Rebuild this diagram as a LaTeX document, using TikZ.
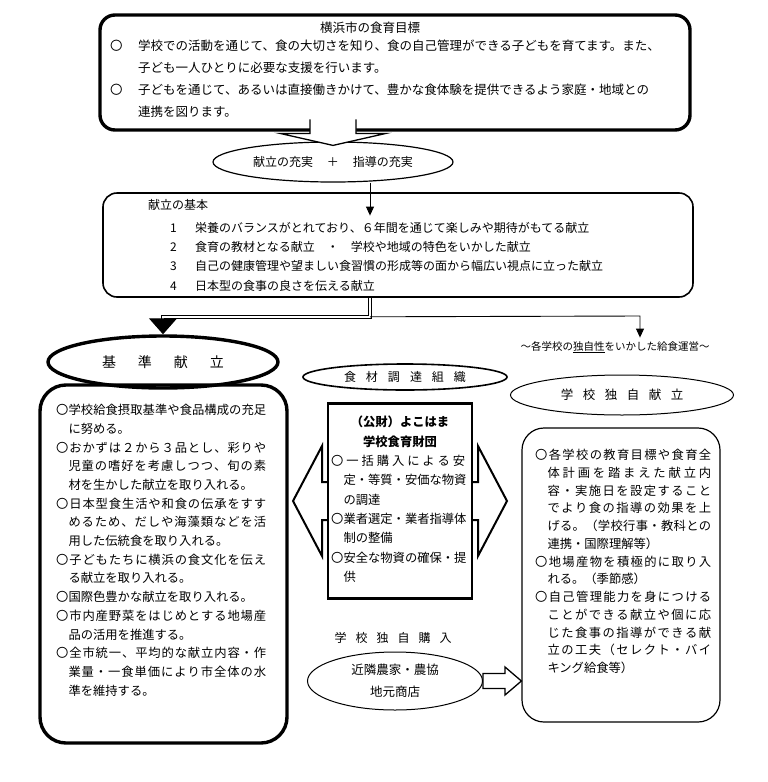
\documentclass[tikz,border=0pt]{standalone}
\usepackage{fontspec}
\setmainfont{Noto Sans CJK JP}
\usetikzlibrary{shapes.geometric, arrows.meta, positioning, calc}

\newcommand{\sz}[2]{\fontsize{#1}{#2}\selectfont}
% justified line: glue between the characters
\def\spreadA#1{#1\spreadB}
\def\spreadB#1{\ifx#1\relax\else\hskip 0pt plus 1fil minus 1.5pt#1\expandafter\spreadB\fi}
\newcommand{\jline}[2]{\makebox[#1][s]{\spreadA#2\relax}}

\begin{document}
\begin{tikzpicture}[x=1pt, y=-1pt,
        heavybox/.style={rectangle, draw, line width=3.4pt, rounded corners=15pt},
        plainbox/.style={rectangle, draw, line width=1.6pt, rounded corners=14pt},
        oval/.style={ellipse, draw, line width=1.2pt, inner sep=0pt},
        body/.style={inner sep=0pt, align=left, anchor=north west},
        arrow/.style={-{Triangle[length=9pt,width=8pt]}, line width=0.9pt},
        block/.style={draw, fill=white, line width=1.3pt, line join=miter},
        heavyline/.style={double, double distance=1.6pt, line width=1.5pt}
    ]
    \useasboundingbox (0,0) rectangle (768,782);

    % goals of the city
    \node[heavybox, minimum width=590pt, minimum height=115pt] (goal) at (395,72.5) {};
    \node[font=\sz{12.5}{15}] (goaltitle) at (370,28) {横浜市の食育目標};
    \node[body, font=\sz{12.5}{22}] (goaltext) at (110,40) {\makebox[28pt][l]{〇}学校での活動を通じて、食の大切さを知り、食の自己管理ができる子どもを育てます。また、\\
        \hspace*{28pt}子ども一人ひとりに必要な支援を行います。\\
        \makebox[28pt][l]{〇}子どもを通じて、あるいは直接働きかけて、豊かな食体験を提供できるよう家庭・地域との\\
        \hspace*{28pt}連携を図ります。};

    \node[oval, minimum width=240pt, minimum height=40pt, font=\sz{12}{14}] (fulfil) at (333,162) {献立の充実\hspace{14pt}＋\hspace{14pt}指導の充実};
    \coordinate (tipA) at ($(fulfil.north)+(0,4)$);
    \draw[block] ($(tipA)+(-23,-26)$) -- ($(tipA)+(-23,-12)$) -- ($(tipA)+(-53,-12)$) -- (tipA)
        -- ($(tipA)+(53,-12)$) -- ($(tipA)+(23,-12)$) -- ($(tipA)+(23,-26)$);

    % basics of the menu
    \node[plainbox, minimum width=590pt, minimum height=104pt] (basics) at (398,245) {};
    \node[font=\sz{12}{14}, anchor=west, inner sep=0pt] (basicstitle) at (148,205) {献立の基本};
    \node[body, font=\sz{12}{19.3}] (basicslist) at (170,222) {\makebox[25pt][l]{1}栄養のバランスがとれており、６年間を通じて楽しみや期待がもてる献立\\
        \makebox[25pt][l]{2}食育の教材となる献立\hspace{12pt}・\hspace{12pt}学校や地域の特色をいかした献立\\
        \makebox[25pt][l]{3}自己の健康管理や望ましい食習慣の形成等の面から幅広い視点に立った献立\\
        \makebox[25pt][l]{4}日本型の食事の良さを伝える献立};
    \draw[arrow] ([xshift=37pt]fulfil.south) -- ++(0,33);

    % standard menu
    \node[oval, line width=3.4pt, minimum width=230pt, minimum height=52pt, font=\sz{14}{16}] (std) at (163,362) {基\hspace{22pt}準\hspace{22pt}献\hspace{22pt}立};
    \node[heavybox, rounded corners=26pt, minimum width=247pt, minimum height=358pt] (stdbox) at (163.5,564) {};
    \node[body, font=\sz{12.3}{18.7}] (stdtext) at (56,404) {\jline{210pt}{〇学校給食摂取基準や食品構成の充足}\\
        \hspace*{1em}に努める。\\
        \jline{210pt}{〇おかずは２から３品とし、彩りや}\\
        \hspace*{1em}\jline{197.7pt}{児童の嗜好を考慮しつつ、旬の素}\\
        \hspace*{1em}材を生かした献立を取り入れる。\\
        \jline{210pt}{〇日本型食生活や和食の伝承をすす}\\
        \hspace*{1em}\jline{197.7pt}{めるため、だしや海藻類などを活}\\
        \hspace*{1em}用した伝統食を取り入れる。\\
        \jline{210pt}{〇子どもたちに横浜の食文化を伝え}\\
        \hspace*{1em}る献立を取り入れる。\\
        〇国際色豊かな献立を取り入れる。\\
        \jline{210pt}{〇市内産野菜をはじめとする地場産}\\
        \hspace*{1em}品の活用を推進する。\\
        \jline{210pt}{〇全市統一、平均的な献立内容・作}\\
        \hspace*{1em}\jline{197.7pt}{業量・一食単価により市全体の水}\\
        \hspace*{1em}準を維持する。};

    \coordinate (split) at ($(basics.south)+(-28,19)$);
    \coordinate (branch) at (640,316);
    \draw[heavyline] ([xshift=-28pt]basics.south) -- (split) -- (split -| std.north) -- ++(0,3);
    \draw[-{Triangle[length=16pt,width=28pt]}, line width=1pt] ($(split -| std.north)+(0,2)$) -- (std.north);
    \node[font=\sz{10.5}{12}] (note) at (615,347) {～各学校の\underline{独自性}をいかした給食運営～};
    \draw[arrow] (split) -- (branch) -- (branch |- note.north);

    % procurement
    \node[oval, line width=1.6pt, minimum width=204pt, minimum height=26pt, font=\sz{12}{14}] (org) at (405,377) {食\hspace{10pt}材\hspace{10pt}調\hspace{10pt}達\hspace{10pt}組\hspace{10pt}織};
    \coordinate (hub) at (400,501);
    \draw[block, line width=2pt] ($(hub)+(-107,0)$) -- ++(29,-55) -- ++(0,36) -- ++(156,0) -- ++(0,-36)
        -- ++(29,55) -- ++(-29,55) -- ++(0,-36) -- ++(-156,0) -- ++(0,36) -- cycle;
    \node[draw, fill=white, line width=2.4pt, minimum width=144pt, minimum height=195pt] (fund) at (hub) {};
    \node[font=\bfseries\sz{12.3}{19.3}, align=center, inner sep=0pt, anchor=north] (fundname) at (400,416) {（公財）よこはま\\学校食育財団};
    \node[body, font=\sz{12.3}{19.3}] (fundtext) at (331,455) {\jline{134pt}{〇一括購入による安}\\
        \hspace*{1em}定・等質・安価な物資\\
        \hspace*{1em}の調達\\
        〇業者選定・業者指導体\\
        \hspace*{1em}制の整備\\
        〇安全な物資の確保・提\\
        \hspace*{1em}供};

    \node[font=\sz{12}{14}] (buy) at (393,638) {学\hspace{9pt}校\hspace{9pt}独\hspace{9pt}自\hspace{9pt}購\hspace{9pt}入};
    \node[oval, line width=1pt, minimum width=175pt, minimum height=58pt, align=center, font=\sz{12.5}{22}] (local) at (395,681) {近隣農家・農協\\地元商店};

    % school's own menu
    \node[oval, line width=1pt, minimum width=223pt, minimum height=40pt, font=\sz{12.5}{14}] (own) at (622,395) {学\hspace{9.5pt}校\hspace{9.5pt}独\hspace{9.5pt}自\hspace{9.5pt}献\hspace{9.5pt}立};
    \node[plainbox, line width=1.2pt, rounded corners=22pt, minimum width=198pt, minimum height=294pt] (ownbox) at (621,575) {};
    \node[body, font=\sz{12.3}{17.75}] (owntext) at (535,449) {\jline{176pt}{〇各学校の教育目標や食育全}\\
        \hspace*{1em}\jline{163.7pt}{体計画を踏まえた献立内}\\
        \hspace*{1em}\jline{163.7pt}{容・実施日を設定すること}\\
        \hspace*{1em}\jline{163.7pt}{でより食の指導の効果を上}\\
        \hspace*{1em}\jline{163.7pt}{げる。（学校行事・教科との}\\
        \hspace*{1em}連携・国際理解等）\\
        \jline{176pt}{〇地場産物を積極的に取り入}\\
        \hspace*{1em}れる。（季節感）\\
        \jline{176pt}{〇自己管理能力を身につける}\\
        \hspace*{1em}\jline{163.7pt}{ことができる献立や個に応}\\
        \hspace*{1em}\jline{163.7pt}{じた食事の指導ができる献}\\
        \hspace*{1em}\jline{163.7pt}{立の工夫（セレクト・バイ}\\
        \hspace*{1em}キング給食等）};

    \draw[block] ($(local.east)+(0,-7.5)$) -- ++(22,0) -- ++(0,-6.5) -- (local.east -| ownbox.west)
        -- ($(local.east)+(22,14)$) -- ++(0,-6.5) -- ++(-22,0) -- cycle;
\end{tikzpicture}
\end{document}
